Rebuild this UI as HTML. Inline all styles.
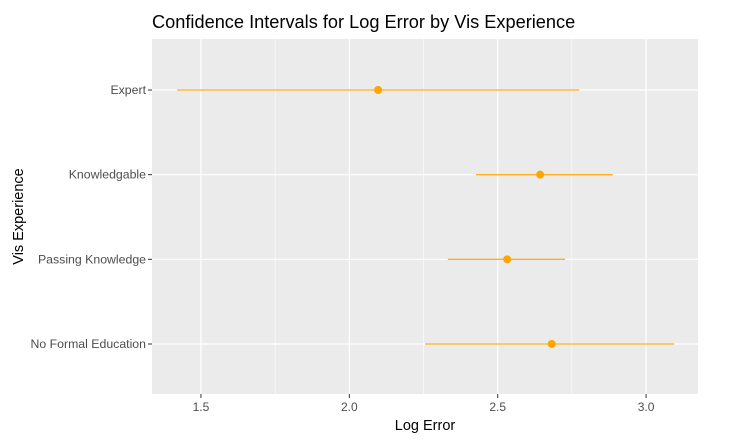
<!DOCTYPE html>
<html><head><meta charset="utf-8"><style>
body{margin:0;background:#fff;font-family:"Liberation Sans",Arial,sans-serif}
</style></head><body>
<svg width="730" height="441" xmlns="http://www.w3.org/2000/svg" font-family="Liberation Sans, Arial, sans-serif">
<g id="g"></g>
</svg>
<script>
const categories=["Expert","Knowledgable","Passing Knowledge","No Formal Education"];
const lows=[1.42,2.427,2.332,2.255];
const highs=[2.775,2.888,2.727,3.095];
const means=[2.097,2.643,2.532,2.682];
const xTicks=[1.5,2.0,2.5,3.0];
const xTickLabels=["1.5","2.0","2.5","3.0"];
const xMinor=[1.75,2.25,2.75];

const L=152,R=698,T=39,B=394;
const xmin=1.335,xmax=3.175;
const sx=v=>L+(v-xmin)/(xmax-xmin)*(R-L);
const catY=[90,175,260,344];
const sy=i=>catY[0]+i*((catY[3]-catY[0])/(categories.length-1));
const NS="http://www.w3.org/2000/svg";
const g=document.getElementById('g');
function mk(t,a,p){const e=document.createElementNS(NS,t);for(const k in a)e.setAttribute(k,a[k]);(p||g).appendChild(e);return e;}
let e;
e=mk('rect',{x:L,y:T,width:R-L,height:B-T,fill:'#ebebeb'});


xMinor.forEach(v=>{e=mk('line',{x1:sx(v),x2:sx(v),y1:T,y2:B,stroke:'#fff','stroke-width':0.6});

});
xTicks.forEach((v,i)=>{e=mk('line',{x1:sx(v),x2:sx(v),y1:T,y2:B,stroke:'#fff','stroke-width':1.2});


e=mk('line',{x1:sx(v),x2:sx(v),y1:B,y2:B+4,stroke:'#333','stroke-width':1});


e=mk('text',{x:sx(v),y:B+17,'text-anchor':'middle','font-size':12,fill:'#4d4d4d'});e.textContent=xTickLabels[i];

});
categories.forEach((c,i)=>{const y=sy(i);
e=mk('line',{x1:L,x2:R,y1:y,y2:y,stroke:'#fff','stroke-width':1.2});


e=mk('line',{x1:L-4,x2:L,y1:y,y2:y,stroke:'#333','stroke-width':1});


e=mk('text',{x:L-6,y:y+4,'text-anchor':'end','font-size':12.3,fill:'#4d4d4d'});e.textContent=c;


e=mk('line',{x1:sx(lows[i]),x2:sx(highs[i]),y1:y,y2:y,stroke:'#ffb020','stroke-width':1.3});


e=mk('circle',{cx:sx(means[i]),cy:y,r:4,fill:'#ffa500'});

});
e=mk('text',{x:L,y:28,'font-size':18.2,fill:'#000'});e.textContent='Confidence Intervals for Log Error by Vis Experience';


e=mk('text',{x:(L+R)/2,y:430,'text-anchor':'middle','font-size':14.5,fill:'#000'});e.textContent='Log Error';


e=mk('text',{x:0,y:0,'text-anchor':'middle','font-size':14.5,fill:'#000',transform:`translate(23,${(T+B)/2}) rotate(-90)`});e.textContent='Vis Experience';


</script>
</body></html>
